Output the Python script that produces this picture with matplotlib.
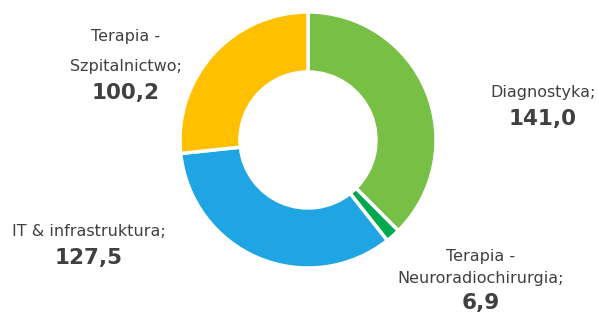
import matplotlib
matplotlib.use('Agg')
import matplotlib.pyplot as plt

labels = ['Diagnostyka;', 'Terapia -\nNeuroradiochirurgia;', 'IT & infrastruktura;', 'Terapia -\nSzpitalnictwo;']
values = [141.0, 6.9, 127.5, 100.2]
colors = ['#77BF45', '#00A94F', '#1FA5E3', '#FFC000']

W, H = 598, 315
fig = plt.figure(figsize=(W / 100, H / 100), dpi=100)
ax = fig.add_axes([0, 0, 1, 1])

# donut, starting at the top, clockwise
ax.pie(values, colors=colors, startangle=90, counterclock=False,
       center=(308, H - 140), radius=128,
       wedgeprops=dict(width=60, edgecolor='white', linewidth=2.5))
ax.set_xlim(0, W)
ax.set_ylim(0, H)
ax.set_aspect('auto')
ax.axis('off')

# label line centres in pixels from top: (x, [name line ys], value y)
label_pos = [(543, [93], 119),
             (481, [256, 279], 303),
             (89, [231], 258),
             (126, [37, 66], 93)]
txt = '#404040'
for lab, v, (x, ys, yv) in zip(labels, values, label_pos):
    for line, y in zip(lab.split('\n'), ys):
        ax.text(x, H - y, line, ha='center', va='center', fontsize=11.5, color=txt)
    ax.text(x, H - yv, ('%.1f' % v).replace('.', ','), ha='center', va='center',
            fontsize=15.5, fontweight='bold', color=txt)

fig.savefig('out.png', dpi=100)
